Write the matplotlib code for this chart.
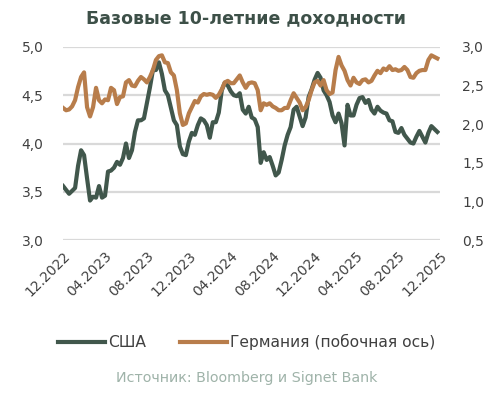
import pandas as pd
import matplotlib
matplotlib.use("Agg")
import matplotlib.pyplot as plt
import matplotlib.dates as mdates
from matplotlib.ticker import FuncFormatter

plt.rcParams['font.family'] = ['DejaVu Sans']

# 10-year yields, USA (left axis) and Germany (right axis)
us = [3.56, 3.52, 3.48, 3.51, 3.54, 3.77, 3.93, 3.88, 3.64, 3.41,
      3.45, 3.44, 3.56, 3.44, 3.46, 3.71, 3.72, 3.75, 3.81, 3.78,
      3.85, 4.00, 3.85, 3.93, 4.12, 4.24, 4.24, 4.26, 4.42, 4.58,
      4.76, 4.76, 4.84, 4.72, 4.55, 4.50, 4.37, 4.24, 4.19, 3.97,
      3.89, 3.88, 4.02, 4.11, 4.09, 4.19, 4.26, 4.24, 4.19, 4.06,
      4.22, 4.22, 4.32, 4.55, 4.63, 4.60, 4.54, 4.50, 4.49, 4.52,
      4.35, 4.31, 4.38, 4.27, 4.25, 4.17, 3.80, 3.91, 3.83, 3.86,
      3.77, 3.67, 3.70, 3.83, 3.98, 4.09, 4.17, 4.35, 4.38, 4.28,
      4.18, 4.27, 4.48, 4.56, 4.66, 4.73, 4.68, 4.55, 4.50, 4.43,
      4.29, 4.22, 4.31, 4.21, 3.98, 4.40, 4.29, 4.29, 4.40, 4.47,
      4.48, 4.42, 4.45, 4.35, 4.31, 4.38, 4.34, 4.32, 4.31, 4.24,
      4.23, 4.12, 4.11, 4.16, 4.09, 4.05, 4.01, 4.00, 4.07, 4.13,
      4.07, 4.01, 4.11, 4.18, 4.15, 4.12]

de = [2.21, 2.18, 2.19, 2.23, 2.31, 2.48, 2.61, 2.67, 2.22, 2.10,
      2.22, 2.47, 2.31, 2.27, 2.32, 2.31, 2.47, 2.44, 2.26, 2.35,
      2.36, 2.54, 2.57, 2.50, 2.49, 2.56, 2.61, 2.58, 2.54, 2.61,
      2.70, 2.83, 2.88, 2.89, 2.80, 2.79, 2.67, 2.63, 2.44, 2.14,
      1.99, 2.01, 2.14, 2.22, 2.30, 2.28, 2.36, 2.39, 2.38, 2.39,
      2.38, 2.34, 2.38, 2.45, 2.54, 2.56, 2.53, 2.53, 2.58, 2.63,
      2.54, 2.47, 2.53, 2.54, 2.53, 2.44, 2.18, 2.27, 2.25, 2.27,
      2.23, 2.21, 2.18, 2.18, 2.21, 2.21, 2.31, 2.40, 2.34, 2.28,
      2.18, 2.22, 2.31, 2.44, 2.54, 2.56, 2.50, 2.57, 2.44, 2.39,
      2.41, 2.70, 2.87, 2.76, 2.69, 2.57, 2.50, 2.60, 2.54, 2.52,
      2.57, 2.58, 2.54, 2.56, 2.63, 2.69, 2.66, 2.72, 2.70, 2.75,
      2.70, 2.71, 2.69, 2.70, 2.74, 2.70, 2.61, 2.60, 2.66, 2.69,
      2.70, 2.70, 2.83, 2.89, 2.87, 2.85]

dates = pd.date_range('2022-12-01', '2025-11-24', periods=len(us))
tick_dates = pd.date_range('2022-12-01', '2025-12-01', freq='4MS')

US_COLOR = '#41574c'
DE_COLOR = '#b87d4b'
TEXT = '#404040'

fig = plt.figure(figsize=(4.93, 3.97), dpi=100)
ax1 = fig.add_axes([0.128, 0.395, 0.764, 0.487])
ax2 = ax1.twinx()

ax1.plot(dates, us, color=US_COLOR, lw=3.0, solid_joinstyle='round', label='США')
ax2.plot(dates, de, color=DE_COLOR, lw=3.0, solid_joinstyle='round',
         label='Германия (побочная ось)')

ax1.set_ylim(3.0, 5.0)
ax1.set_yticks([3.0, 3.5, 4.0, 4.5, 5.0])
ax2.set_ylim(0.5, 3.0)
ax2.set_yticks([0.5, 1.0, 1.5, 2.0, 2.5, 3.0])
comma = FuncFormatter(lambda v, p: f'{v:.1f}'.replace('.', ','))
ax1.yaxis.set_major_formatter(comma)
ax2.yaxis.set_major_formatter(comma)

ax1.set_xlim(pd.Timestamp('2022-12-01'), pd.Timestamp('2025-12-01'))
ax1.set_xticks(tick_dates)
ax1.xaxis.set_major_formatter(mdates.DateFormatter('%m.%Y'))
for lab in ax1.get_xticklabels():
    lab.set_rotation(45)
    lab.set_ha('right')
    lab.set_rotation_mode('anchor')

ax1.grid(axis='y', color='#d9d9d9', lw=1.6)
ax1.set_axisbelow(True)
for ax in (ax1, ax2):
    for s in ax.spines.values():
        s.set_visible(False)
    ax.tick_params(length=0, labelsize=10, colors=TEXT)
ax1.tick_params(axis='y', pad=14)
ax2.tick_params(axis='y', pad=16)
ax1.tick_params(axis='x', pad=6)

fig.text(0.5, 0.955, 'Базовые 10-летние доходности', ha='center', va='center',
         fontsize=12.5, fontweight='bold', color='#3d5048')

h1, l1 = ax1.get_legend_handles_labels()
h2, l2 = ax2.get_legend_handles_labels()
fig.legend(h1 + h2, l1 + l2, loc='center', bbox_to_anchor=(0.5, 0.138), ncol=2,
           frameon=False, fontsize=11.2, handlelength=3.0, handletextpad=0.2,
           columnspacing=2.2, labelcolor=TEXT)

fig.text(0.5, 0.048, 'Источник: Bloomberg и Signet Bank', ha='center', va='center',
         fontsize=10.3, color='#9fb3a9')

fig.savefig('out.png', dpi=100)
